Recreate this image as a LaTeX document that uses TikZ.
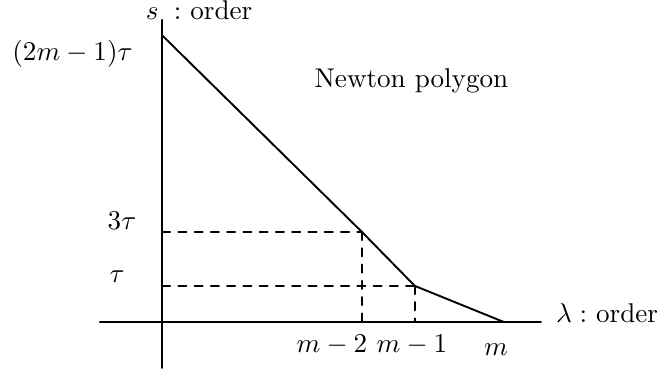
\documentclass[tikz,border=0pt]{standalone}
\usepackage{tkz-euclide}

\begin{document}
\begin{tikzpicture}[scale=1.047]
\tkzSetUpLine[line width=0.7pt,color=black]

% axes
\tkzDefPoints{0/0/O,-0.77/0/L,4.69/0/R,0/3.74/T,0/-0.57/D}
% vertices of the polygon
\tkzDefPoints{0/3.55/A,2.475/1.114/B,3.13/0.446/C,4.23/0/E}
% feet of the dashed lines
\tkzDefPoints{0/1.114/Bs,0/0.446/Cs,2.475/0/Bl,3.13/0/Cl}
% baselines of the labels
\tkzDefPoints{0.46/3.74/Ts,-1.108/3.24/As,3.088/2.896/Np,-0.495/1.139/Bt,-0.557/0.483/Ct,5.51/-0.012/Rl,2.104/-0.384/Bm,3.094/-0.384/Cm,4.134/-0.421/Em}

\useasboundingbox (-2.005,-0.631) rectangle (6.14,3.985);

\tkzDrawSegments(L,R T,D)
\tkzDrawPolySeg(A,B,C,E)
\tkzDrawSegments[dashed](Bs,B B,Bl Cs,C C,Cl)

\tkzLabelPoint[anchor=base](Ts){$s\;:$ order}
\tkzLabelPoint[anchor=base](As){$(2m-1)\tau$}
\tkzLabelPoint[anchor=base](Np){Newton polygon}
\tkzLabelPoint[anchor=base](Bt){$3\tau$}
\tkzLabelPoint[anchor=base](Ct){$\tau$}
\tkzLabelPoint[anchor=base](Rl){$\lambda :$ order}
\tkzLabelPoint[anchor=base](Bm){$m-2$}
\tkzLabelPoint[anchor=base](Cm){$m-1$}
\tkzLabelPoint[anchor=base](Em){$m$}

\end{tikzpicture}
\end{document}
